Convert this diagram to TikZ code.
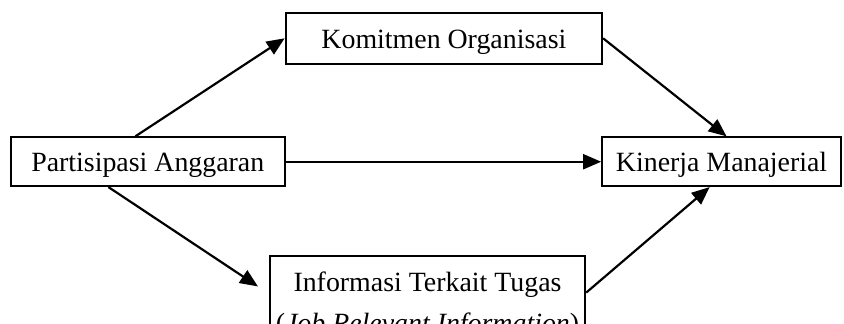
\documentclass[tikz,border=0pt]{standalone}
\usepackage{fontspec}
\setmainfont{Liberation Serif}
\usepackage{tikz}
\usetikzlibrary{positioning}
\usetikzlibrary{arrows.meta}
\tikzset{node distance=2.5cm, % Default distance, overridden below
var/.style={ % Sets the properties for each variable box
draw,
line width=1pt,
minimum height=24.5pt,
inner xsep=0pt,
font=\fontsize{14}{20.5}\selectfont},
oneline/.style={ % Single line boxes
var,
text height=12pt,
text depth=2pt},
link/.style={ % Sets the properties for each arrow
-{Triangle[length=9pt,width=7.5pt]},
line width=1.1pt}}

\begin{document}
\begin{tikzpicture}
				\node[oneline, minimum width=137.5pt] (part) {Partisipasi Anggaran};
				\node[oneline, minimum width=120pt, right=158.5pt of part] (kin) {Kinerja Manajerial};
				\node[oneline, minimum width=159pt, minimum height=25.5pt, above right=36pt and -0.5pt of part] (kom) {Komitmen Organisasi};
				\node[var, align=center, minimum width=158.5pt, inner ysep=8pt, below right=34pt and -8.5pt of part] (info) {Informasi Terkait Tugas\\(\textit{Job Relevant Information})};

				% Page is cut like the scanned figure
				\pgfresetboundingbox
				\useasboundingbox ([xshift=-5pt,yshift=81.25pt]part.west) rectangle ([xshift=1pt,yshift=-81.25pt]kin.east);

				\draw[link] ([xshift=-6.25pt]part.north) -- (kom.west);
				\draw[link] (part.east) -- (kin.west);
				\draw[link, shorten >=6.5pt] ([xshift=-19.75pt]part.south) -- ([yshift=-19.5pt]info.north west);

				\draw[link] (kom.east) -- ([xshift=2.5pt]kin.north);
				\draw[link] ([yshift=-19pt]info.north east) -- ([xshift=-6pt]kin.south);
			\end{tikzpicture}
\end{document}
